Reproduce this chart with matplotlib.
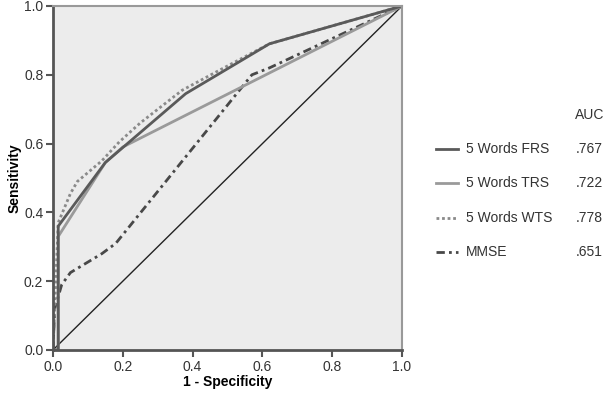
import matplotlib
matplotlib.use("Agg")
import matplotlib.pyplot as plt
from matplotlib.lines import Line2D

plt.rcParams['font.family'] = ['Liberation Sans', 'DejaVu Sans']

# ROC curve points (1 - specificity, sensitivity)
frs_x = [0.0, 0.015, 0.015, 0.15, 0.38, 0.62, 1.0]
frs_y = [0.0, 0.0, 0.36, 0.545, 0.745, 0.89, 1.0]

trs_x = [0.0, 0.015, 0.015, 0.15, 0.2, 1.0]
trs_y = [0.0, 0.0, 0.33, 0.545, 0.59, 1.0]

wts_x = [0.0, 0.015, 0.05, 0.07, 0.14, 0.19, 0.25, 0.37, 0.48, 0.62, 1.0]
wts_y = [0.0, 0.37, 0.455, 0.49, 0.55, 0.605, 0.66, 0.755, 0.815, 0.89, 1.0]

mmse_x = [0.0, 0.005, 0.025, 0.05, 0.14, 0.18, 0.57, 0.62, 1.0]
mmse_y = [0.0, 0.12, 0.19, 0.225, 0.28, 0.31, 0.80, 0.82, 1.0]

labels = ["5 Words FRS", "5 Words TRS", "5 Words WTS", "MMSE"]
auc = [".767", ".722", ".778", ".651"]

fig = plt.figure(figsize=(6.07, 3.94), dpi=100)
ax = fig.add_axes([0.0873, 0.1117, 0.575, 0.8731])
ax.set_facecolor("#ececec")

ax.plot([0, 1], [0, 1], color="#222222", lw=1.0)
ax.plot(mmse_x, mmse_y, color="#484848", lw=2.0, ls=(0, (3, 1.5, 1, 1.5)))
ax.plot(trs_x, trs_y, color="#9a9a9a", lw=2.0)
ax.plot(wts_x, wts_y, color="#8a8a8a", lw=2.0, ls=(0, (1, 1)))
ax.plot(frs_x, frs_y, color="#5a5a5a", lw=2.0)

ax.set_xlim(0, 1)
ax.set_ylim(0, 1)
ax.set_xticks([0, 0.2, 0.4, 0.6, 0.8, 1.0])
ax.set_yticks([0, 0.2, 0.4, 0.6, 0.8, 1.0])
ax.set_xticklabels(["0.0", "0.2", "0.4", "0.6", "0.8", "1.0"])
ax.set_yticklabels(["0.0", "0.2", "0.4", "0.6", "0.8", "1.0"])
ax.tick_params(direction="out", length=5, width=1.5, color="#555555",
               labelsize=10, labelcolor="#333333", pad=2)
ax.set_xlabel("1 - Specificity", fontsize=10, fontweight="bold", labelpad=1)
ax.set_ylabel("Sensitivity", fontsize=10, fontweight="bold", labelpad=2)

for side in ["left", "bottom"]:
    ax.spines[side].set_color("#555555")
    ax.spines[side].set_linewidth(2.0)
for side in ["top", "right"]:
    ax.spines[side].set_color("#999999")
    ax.spines[side].set_linewidth(1.5)

# legend drawn by hand: handle, label, AUC column
W, H = 607.0, 394.0
fig.text(575 / W, 1 - 115 / H, "AUC", fontsize=10, color="#333333", va="center")
styles = [("#5a5a5a", "-"), ("#9a9a9a", "-"), ("#8a8a8a", (0, (1, 1))),
          ("#484848", (0, (3, 1.5, 1, 1.5)))]
rows = [149, 183, 218, 252]
for (c, ls), lab, a, r in zip(styles, labels, auc, rows):
    yy = 1 - r / H
    fig.add_artist(Line2D([436 / W, 458 / W], [yy, yy], color=c, lw=2.0, ls=ls))
    fig.text(466 / W, yy, lab, fontsize=10, color="#333333", va="center")
    fig.text(576 / W, yy, a, fontsize=10, color="#333333", va="center")

plt.savefig("out.png", dpi=100)
plt.close(fig)
